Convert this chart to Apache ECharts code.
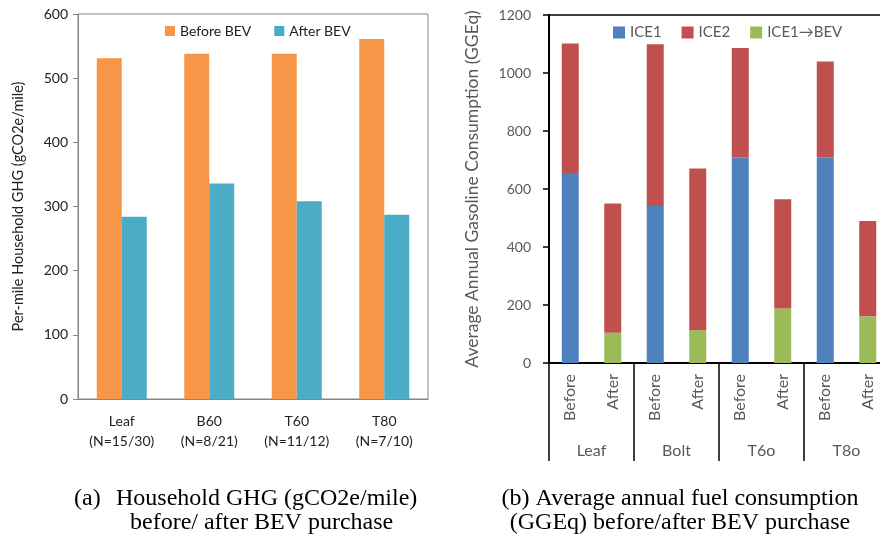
<!doctype html>
<html><head><meta charset="utf-8" />
<style>
  html,body,#app{margin:0;padding:0;width:880px;height:543px;background:#ffffff}
</style>
<script src="https://cdn.jsdelivr.net/npm/echarts@6/dist/echarts.min.js"></script>
</head><body><div id="app"></div>
<script>
// (a) per-mile household GHG
const ghgCategories = ['Leaf\n(N=15/30)', 'B60\n(N=8/21)', 'T60\n(N=11/12)', 'T80\n(N=7/10)'];
const ghgBefore = [531, 538, 538, 561];
const ghgAfter = [284, 336, 308, 287];
const ghgTicks = { min: 0, max: 600, interval: 100 };

// (b) annual fuel consumption, stacked
const fuelBars = ['Before', 'After', 'Before', 'After', 'Before', 'After', 'Before', 'After'];
const fuelGroups = ['Leaf', 'Bolt', 'T6o', 'T8o'];
const ice1 = [655, '-', 541, '-', 709, '-', 709, '-'];
const ice1ToBev = ['-', 104, '-', 113, '-', 188, '-', 161];
const ice2 = [447, 446, 558, 558, 377, 377, 331, 329];
const fuelTicks = { min: 0, max: 1200, interval: 200 };

const captionA = ['(a)', 'Household GHG (gCO2e/mile)', 'before/ after BEV purchase'];
const captionB = ['(b) Average annual fuel consumption', '(GGEq) before/after BEV purchase'];

(function(){
  const el = document.getElementById('app');
  const chart = echarts.init(el);
  const grey = '#595959', ink = '#222';
  const capFont = '24px "Liberation Serif", "Times New Roman", serif';
  const capText = (t, x, y, align) => ({ type: 'text', x: x, y: y, style: { text: t, font: capFont, fill: '#000', align: align || 'left', verticalAlign: 'middle' } });

  const option = {
    backgroundColor: '#ffffff',
    animation: false,
    textStyle: { fontFamily: 'Lato' },
    grid: [
      { left: 78, top: 14, width: 350, height: 385, show: true, borderColor: '#868686', borderWidth: 1, outerBoundsMode: 'none' },
      { left: 549, top: 15, width: 340, height: 348, show: true, borderColor: '#000', borderWidth: 1.5, outerBoundsMode: 'none' }
    ],
    legend: [
      { data: ['Before BEV', 'After BEV'], left: 160, top: 19, icon: 'rect', itemWidth: 10, itemHeight: 10, itemGap: 23, textStyle: { fontSize: 14, color: ink } },
      { data: ['ICE1', 'ICE2', 'ICE1→BEV'], left: 608, top: 20, icon: 'rect', itemWidth: 12, itemHeight: 12, itemGap: 20, textStyle: { fontSize: 15, color: grey } }
    ],
    xAxis: [
      { gridIndex: 0, type: 'category', data: ghgCategories, axisLine: { lineStyle: { color: '#868686' } }, axisTick: { show: false },
        axisLabel: { color: ink, fontSize: 14, lineHeight: 20, margin: 12, interval: 0 } },
      { gridIndex: 1, type: 'category', data: fuelBars, axisLine: { lineStyle: { color: '#000', width: 2 } }, axisTick: { show: false },
        axisLabel: { rotate: 90, color: grey, fontSize: 16, margin: 11, interval: 0 } },
      { gridIndex: 1, type: 'category', data: fuelGroups, position: 'bottom', axisLine: { show: false },
        axisTick: { show: true, length: 98, interval: 0, lineStyle: { color: '#000', width: 1.5 } },
        axisLabel: { color: grey, fontSize: 16, margin: 80, interval: 0 } }
    ],
    yAxis: [
      { gridIndex: 0, type: 'value', min: ghgTicks.min, max: ghgTicks.max, interval: ghgTicks.interval,
        axisLine: { show: true, lineStyle: { color: '#868686' } }, axisTick: { show: true, length: 5, lineStyle: { color: '#868686' } },
        splitLine: { show: false }, axisLabel: { color: ink, fontSize: 14, margin: 10 },
        name: 'Per-mile Household GHG (gCO2e/mile)', nameLocation: 'middle', nameGap: 52, nameTextStyle: { fontSize: 14.5, color: ink } },
      { gridIndex: 1, type: 'value', min: fuelTicks.min, max: fuelTicks.max, interval: fuelTicks.interval,
        axisLine: { show: true, lineStyle: { color: '#000', width: 2 } }, axisTick: { show: true, length: 6, lineStyle: { color: '#000', width: 1.5 } },
        splitLine: { show: false }, axisLabel: { color: grey, fontSize: 14, margin: 18, formatter: v => String(v) },
        name: 'Average Annual Gasoline Consumption (GGEq)', nameLocation: 'middle', nameGap: 68, nameTextStyle: { fontSize: 17.5, color: grey } }
    ],
    series: [
      { name: 'Before BEV', type: 'bar', xAxisIndex: 0, yAxisIndex: 0, data: ghgBefore, barWidth: 25, barGap: '0%', itemStyle: { color: '#F79646' } },
      { name: 'After BEV', type: 'bar', xAxisIndex: 0, yAxisIndex: 0, data: ghgAfter, barWidth: 25, barGap: '0%', itemStyle: { color: '#4BACC6' } },
      { name: 'ICE1', type: 'bar', stack: 'fuel', xAxisIndex: 1, yAxisIndex: 1, data: ice1, barWidth: 17, itemStyle: { color: '#4F81BD' } },
      { name: 'ICE1→BEV', type: 'bar', stack: 'fuel', xAxisIndex: 1, yAxisIndex: 1, data: ice1ToBev, barWidth: 17, itemStyle: { color: '#9BBB59' } },
      { name: 'ICE2', type: 'bar', stack: 'fuel', xAxisIndex: 1, yAxisIndex: 1, data: ice2, barWidth: 17, itemStyle: { color: '#C0504D' } }
    ],
    graphic: [
      capText(captionA[0], 74, 499),
      capText(captionA[1], 116, 499),
      capText(captionA[2], 130, 523),
      capText(captionB[0], 680, 499, 'center'),
      capText(captionB[1], 680, 523, 'center')
    ]
  };
  chart.setOption(option);
  window.chartReady = true;
})();
</script></body></html>
